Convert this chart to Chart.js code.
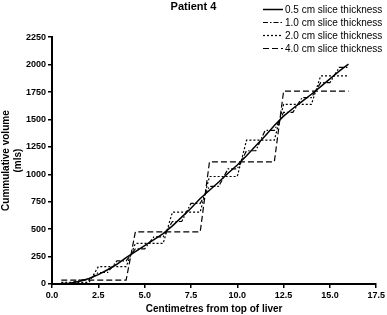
<!DOCTYPE html>
<html>
<head>
    <title>Patient 4</title>
    <script src="https://cdn.jsdelivr.net/npm/chart.js"></script>
    <style>
        body {
            margin: 0;
            padding: 0;
            background: #fff;
            overflow: hidden;
        }
        #wrap {
            position: relative;
            width: 387px;
            height: 315px;
        }
    </style>
</head>
<body>
    <div id="wrap"><canvas id="myChart"></canvas></div>

    <script>
        // 0.5 cm slices: cumulative volume along the liver
        const solidX = [0.75, 1.0, 1.5, 2.0, 2.5, 3.0, 3.5, 4.0, 4.5, 5.0, 5.5, 6.0, 6.5, 7.0, 7.5, 8.0,
                        8.5, 9.0, 9.5, 10.0, 10.5, 11.0, 11.5, 12.0, 12.5, 13.0, 13.5, 14.0, 14.5, 15.0, 15.5, 16.0];
        const solidY = [0, 8, 25, 50, 85, 130, 180, 240, 295, 350, 405, 460, 530, 610, 690, 780,
                        855, 930, 1010, 1085, 1170, 1260, 1350, 1445, 1530, 1600, 1665, 1730, 1800, 1870, 1940, 2005];

        // step levels for the thicker slices (one level per slice)
        const levels1cm = [5, 38, 105, 210, 320, 430, 570, 735, 890, 1050, 1215, 1400, 1565, 1700, 1835, 1975];
        const levels2cm = [15, 158, 370, 656, 980, 1311, 1637, 1897];
        const levels4cm = [35, 476, 1114, 1758];

        const seriesLabels = ['0.5 cm slice thickness', '1.0 cm slice thickness', '2.0 cm slice thickness', '4.0 cm slice thickness'];
        const xTicks = [0, 2.5, 5, 7.5, 10, 12.5, 15, 17.5];
        const yTicks = [0, 250, 500, 750, 1000, 1250, 1500, 1750, 2000, 2250];

        const FONT = 'Arial, "Liberation Sans", sans-serif';

        // each slice: flat from its start to (start + thickness - 0.5), then a riser to the next slice
        function stepPoints(levels, thick) {
            const pts = [];
            levels.forEach((v, i) => {
                const s = 0.5 + i * thick;
                pts.push({x: s, y: v}, {x: s + thick - 0.5, y: v});
            });
            return pts;
        }

        const dashes = [[], [5, 2, 1.5, 2], [2, 2], [6, 3]];

        const legendPlugin = {
            id: 'lineLegend',
            afterDraw(chart) {
                const c = chart.ctx;
                c.save();
                c.font = '10px ' + FONT;
                c.fillStyle = '#000';
                c.textBaseline = 'middle';
                chart.data.datasets.forEach((ds, i) => {
                    const y = 9.5 + i * 13;
                    c.strokeStyle = '#000';
                    c.lineWidth = ds.borderWidth;
                    c.setLineDash(ds.borderDash || []);
                    c.beginPath();
                    c.moveTo(263, y);
                    c.lineTo(283, y);
                    c.stroke();
                    c.fillText(ds.label, 285, y + 0.5);
                });
                c.restore();
            }
        };

        new Chart(document.getElementById('myChart'), {
            type: 'scatter',
            data: {
                datasets: [
                    {
                        label: seriesLabels[0],
                        data: solidX.map((x, i) => ({x: x, y: solidY[i]})),
                        borderWidth: 1.5,
                        borderDash: dashes[0]
                    },
                    {
                        label: seriesLabels[1],
                        data: stepPoints(levels1cm, 1),
                        borderWidth: 1.2,
                        borderDash: dashes[1]
                    },
                    {
                        label: seriesLabels[2],
                        data: stepPoints(levels2cm, 2),
                        borderWidth: 1.2,
                        borderDash: dashes[2]
                    },
                    {
                        label: seriesLabels[3],
                        data: stepPoints(levels4cm, 4),
                        borderWidth: 1.2,
                        borderDash: dashes[3]
                    }
                ].map(ds => Object.assign(ds, {
                    showLine: true,
                    borderColor: '#000',
                    backgroundColor: '#000',
                    pointRadius: 0,
                    fill: false,
                    tension: 0
                }))
            },
            options: {
                responsive: true,
                maintainAspectRatio: false,
                animation: false,
                layout: {
                    padding: {left: 0, right: 0, top: 0, bottom: 0}
                },
                plugins: {
                    legend: {display: false},
                    tooltip: {enabled: false},
                    title: {
                        display: true,
                        text: 'Patient 4',
                        color: '#000',
                        font: {family: FONT, size: 11, weight: 'bold'},
                        padding: {top: 0, bottom: 24}
                    }
                },
                scales: {
                    x: {
                        type: 'linear',
                        min: 0,
                        max: 17.5,
                        afterBuildTicks: (scale) => {
                            scale.ticks = xTicks.map(v => ({value: v}));
                        },
                        afterFit: (scale) => { scale.height = 31; },
                        ticks: {
                            color: '#000',
                            font: {family: FONT, size: 9, weight: 'bold'},
                            padding: 2,
                            maxRotation: 0,
                            callback: (v) => v.toFixed(1)
                        },
                        grid: {
                            display: true,
                            drawOnChartArea: false,
                            drawTicks: true,
                            tickLength: 4,
                            color: '#000',
                            lineWidth: 1.5
                        },
                        border: {display: true, color: '#000', width: 2},
                        title: {
                            display: true,
                            text: 'Centimetres from top of liver',
                            color: '#000',
                            font: {family: FONT, size: 10, weight: 'bold'},
                            padding: {top: 0, bottom: 0}
                        }
                    },
                    y: {
                        type: 'linear',
                        min: 0,
                        max: 2250,
                        afterBuildTicks: (scale) => {
                            scale.ticks = yTicks.map(v => ({value: v}));
                        },
                        afterFit: (scale) => { scale.width = 52; },
                        ticks: {
                            color: '#000',
                            font: {family: FONT, size: 9, weight: 'bold'},
                            padding: 2,
                            callback: (v) => String(v)
                        },
                        grid: {
                            display: true,
                            drawOnChartArea: false,
                            drawTicks: true,
                            tickLength: 4,
                            color: '#000',
                            lineWidth: 1.5
                        },
                        border: {display: true, color: '#000', width: 2},
                        title: {
                            display: true,
                            text: ['Cummulative volume', '(mls)'],
                            color: '#000',
                            font: {family: FONT, size: 10, weight: 'bold'},
                            padding: {top: 0, bottom: 0}
                        }
                    }
                }
            },
            plugins: [legendPlugin]
        });
    </script>
</body>
</html>
